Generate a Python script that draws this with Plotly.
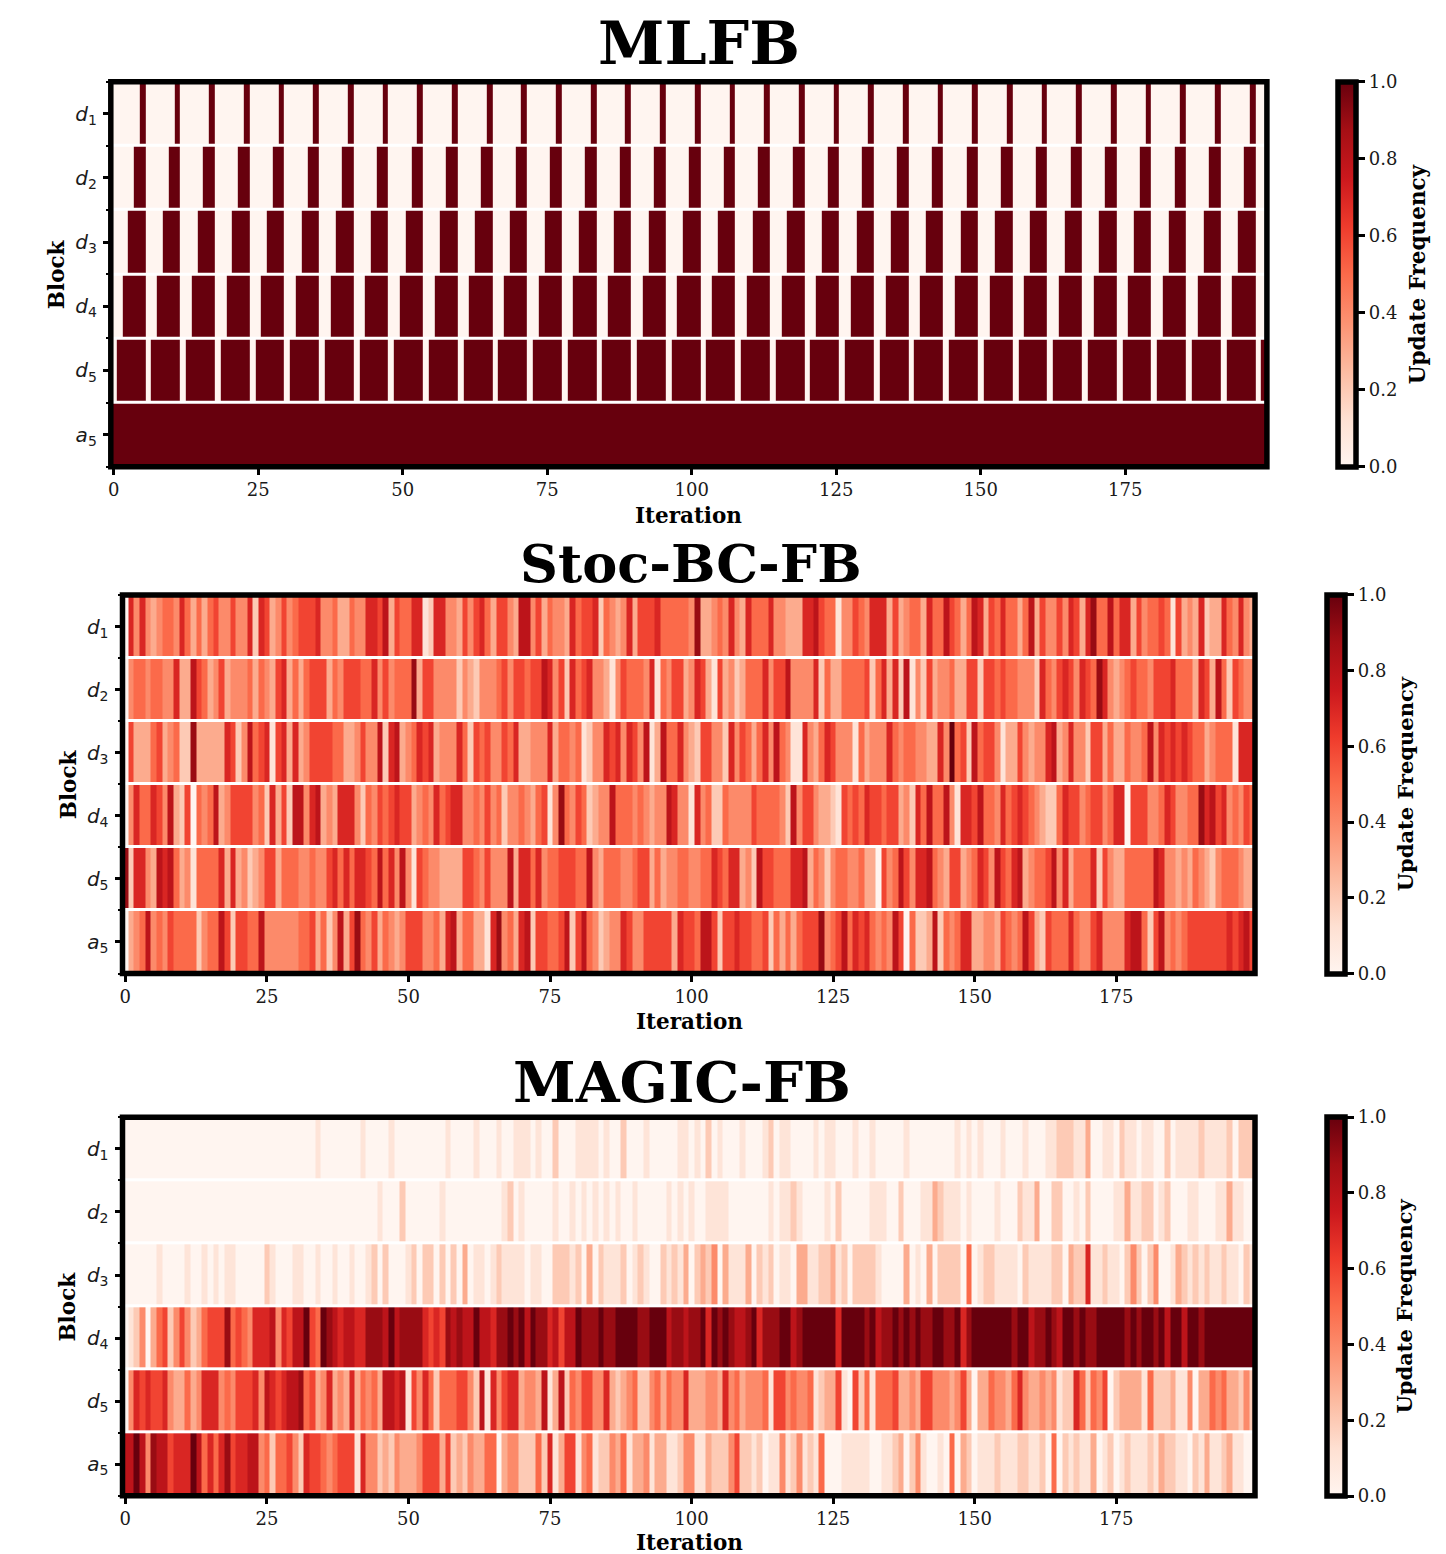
import plotly.graph_objects as go

W, H = 1446, 1554

BLOCK_LABELS = ["<i>d</i><sub>1</sub>", "<i>d</i><sub>2</sub>", "<i>d</i><sub>3</sub>",
                "<i>d</i><sub>4</sub>", "<i>d</i><sub>5</sub>", "<i>a</i><sub>5</sub>"]
ITERATION_TICKS = [0, 25, 50, 75, 100, 125, 150, 175]
CBAR_TICKS = [0.0, 0.2, 0.4, 0.6, 0.8, 1.0]
REDS = ["#fff5f0", "#fee0d2", "#fcbba1", "#fc9272", "#fb6a4a", "#ef3b2c", "#cb181d", "#a50f15", "#67000d"]

# Update counts in a window of ten iterations (value / 10 = update frequency)
MLFB_D1 = [0,0,0,0,0,10,0,0,0,0, 0,10,0,0,0,0,0,10,0,0, 0,0,0,10,0,0,0,0,0,10, 0,0,0,0,0,10,0,0,0,0, 0,10,0,0,0,0,0,10,0,0,
           0,0,0,10,0,0,0,0,0,10, 0,0,0,0,0,10,0,0,0,0, 0,10,0,0,0,0,0,10,0,0, 0,0,0,10,0,0,0,0,0,10, 0,0,0,0,0,10,0,0,0,0,
           0,10,0,0,0,0,0,10,0,0, 0,0,0,10,0,0,0,0,0,10, 0,0,0,0,0,10,0,0,0,0, 0,10,0,0,0,0,0,10,0,0, 0,0,0,10,0,0,0,0,0,10,
           0,0,0,0,0,10,0,0,0,0, 0,10,0,0,0,0,0,10,0,0, 0,0,0,10,0,0,0,0,0,10, 0,0,0,0,0,10,0,0,0,0, 0,10,0,0,0,0,0,10,0,0]
MLFB_D2 = [0,0,0,0,10,10,0,0,0,0, 10,10,0,0,0,0,10,10,0,0, 0,0,10,10,0,0,0,0,10,10, 0,0,0,0,10,10,0,0,0,0, 10,10,0,0,0,0,10,10,0,0,
           0,0,10,10,0,0,0,0,10,10, 0,0,0,0,10,10,0,0,0,0, 10,10,0,0,0,0,10,10,0,0, 0,0,10,10,0,0,0,0,10,10, 0,0,0,0,10,10,0,0,0,0,
           10,10,0,0,0,0,10,10,0,0, 0,0,10,10,0,0,0,0,10,10, 0,0,0,0,10,10,0,0,0,0, 10,10,0,0,0,0,10,10,0,0, 0,0,10,10,0,0,0,0,10,10,
           0,0,0,0,10,10,0,0,0,0, 10,10,0,0,0,0,10,10,0,0, 0,0,10,10,0,0,0,0,10,10, 0,0,0,0,10,10,0,0,0,0, 10,10,0,0,0,0,10,10,0,0]
MLFB_D3 = [0,0,0,10,10,10,0,0,0,10, 10,10,0,0,0,10,10,10,0,0, 0,10,10,10,0,0,0,10,10,10, 0,0,0,10,10,10,0,0,0,10, 10,10,0,0,0,10,10,10,0,0,
           0,10,10,10,0,0,0,10,10,10, 0,0,0,10,10,10,0,0,0,10, 10,10,0,0,0,10,10,10,0,0, 0,10,10,10,0,0,0,10,10,10, 0,0,0,10,10,10,0,0,0,10,
           10,10,0,0,0,10,10,10,0,0, 0,10,10,10,0,0,0,10,10,10, 0,0,0,10,10,10,0,0,0,10, 10,10,0,0,0,10,10,10,0,0, 0,10,10,10,0,0,0,10,10,10,
           0,0,0,10,10,10,0,0,0,10, 10,10,0,0,0,10,10,10,0,0, 0,10,10,10,0,0,0,10,10,10, 0,0,0,10,10,10,0,0,0,10, 10,10,0,0,0,10,10,10,0,0]
MLFB_D4 = [0,0,10,10,10,10,0,0,10,10, 10,10,0,0,10,10,10,10,0,0, 10,10,10,10,0,0,10,10,10,10, 0,0,10,10,10,10,0,0,10,10, 10,10,0,0,10,10,10,10,0,0,
           10,10,10,10,0,0,10,10,10,10, 0,0,10,10,10,10,0,0,10,10, 10,10,0,0,10,10,10,10,0,0, 10,10,10,10,0,0,10,10,10,10, 0,0,10,10,10,10,0,0,10,10,
           10,10,0,0,10,10,10,10,0,0, 10,10,10,10,0,0,10,10,10,10, 0,0,10,10,10,10,0,0,10,10, 10,10,0,0,10,10,10,10,0,0, 10,10,10,10,0,0,10,10,10,10,
           0,0,10,10,10,10,0,0,10,10, 10,10,0,0,10,10,10,10,0,0, 10,10,10,10,0,0,10,10,10,10, 0,0,10,10,10,10,0,0,10,10, 10,10,0,0,10,10,10,10,0,0]
MLFB_D5 = [0,10,10,10,10,10,0,10,10,10, 10,10,0,10,10,10,10,10,0,10, 10,10,10,10,0,10,10,10,10,10, 0,10,10,10,10,10,0,10,10,10, 10,10,0,10,10,10,10,10,0,10,
           10,10,10,10,0,10,10,10,10,10, 0,10,10,10,10,10,0,10,10,10, 10,10,0,10,10,10,10,10,0,10, 10,10,10,10,0,10,10,10,10,10, 0,10,10,10,10,10,0,10,10,10,
           10,10,0,10,10,10,10,10,0,10, 10,10,10,10,0,10,10,10,10,10, 0,10,10,10,10,10,0,10,10,10, 10,10,0,10,10,10,10,10,0,10, 10,10,10,10,0,10,10,10,10,10,
           0,10,10,10,10,10,0,10,10,10, 10,10,0,10,10,10,10,10,0,10, 10,10,10,10,0,10,10,10,10,10, 0,10,10,10,10,10,0,10,10,10, 10,10,0,10,10,10,10,10,0,10]
MLFB_A5 = [10,10,10,10,10,10,10,10,10,10, 10,10,10,10,10,10,10,10,10,10, 10,10,10,10,10,10,10,10,10,10, 10,10,10,10,10,10,10,10,10,10, 10,10,10,10,10,10,10,10,10,10,
           10,10,10,10,10,10,10,10,10,10, 10,10,10,10,10,10,10,10,10,10, 10,10,10,10,10,10,10,10,10,10, 10,10,10,10,10,10,10,10,10,10, 10,10,10,10,10,10,10,10,10,10,
           10,10,10,10,10,10,10,10,10,10, 10,10,10,10,10,10,10,10,10,10, 10,10,10,10,10,10,10,10,10,10, 10,10,10,10,10,10,10,10,10,10, 10,10,10,10,10,10,10,10,10,10,
           10,10,10,10,10,10,10,10,10,10, 10,10,10,10,10,10,10,10,10,10, 10,10,10,10,10,10,10,10,10,10, 10,10,10,10,10,10,10,10,10,10, 10,10,10,10,10,10,10,10,10,10]

STOC_D1 = [0,7,4,7,4,3,4,5,5,4, 7,5,3,5,3,5,6,4,4,6, 4,4,7,2,7,6,3,4,6,4, 5,6,6,6,7,4,4,5,3,3, 5,4,4,7,7,6,8,3,6,5,
           5,7,7,1,2,7,7,4,4,3, 6,4,6,7,5,3,6,6,4,3, 8,8,4,6,3,5,4,4,3,7, 5,6,6,7,2,5,4,3,4,7, 3,6,6,6,7,5,5,5,5,5,
           4,9,3,3,4,5,4,7,4,3, 7,5,5,5,7,4,4,3,3,3, 7,7,8,6,5,5,1,4,4,6, 5,4,7,7,7,3,6,3,4,5, 5,3,7,5,5,8,6,5,3,5,
           8,7,3,6,5,7,5,5,3,5, 8,3,6,4,4,6,4,7,6,3, 7,9,5,5,8,5,7,7,3,6, 4,5,5,6,5,1,6,3,4,3, 7,2,3,3,7,5,4,7,4,3]
STOC_D2 = [0,4,5,5,4,5,5,4,4,7, 3,3,8,6,5,3,4,6,3,4, 4,4,5,3,5,4,3,6,7,3, 5,3,5,6,6,6,3,5,4,6, 6,6,5,5,7,4,6,4,5,5,
           5,9,3,6,6,4,4,4,4,2, 4,3,2,4,4,4,5,6,4,6, 6,5,6,6,8,7,4,6,2,7, 5,6,7,4,4,3,1,4,6,5, 5,5,4,7,1,5,4,6,6,3,
           4,7,6,3,1,6,3,4,2,3, 5,5,5,7,4,6,6,8,4,4, 4,4,7,2,5,3,3,5,5,5, 5,6,2,5,7,3,7,2,8,1, 4,2,6,3,4,4,5,3,3,6,
           6,2,6,6,5,6,5,5,4,4, 4,2,7,5,4,6,7,6,4,7, 6,5,9,7,4,3,4,5,6,5, 5,4,6,6,6,7,5,5,5,3, 7,6,3,8,5,2,6,5,4,4]
STOC_D3 = [0,6,3,3,3,5,6,3,4,5, 2,2,9,3,3,3,3,3,7,6, 2,4,8,5,6,7,1,6,7,3, 7,3,4,6,6,6,6,5,5,3, 3,4,6,4,4,8,2,7,8,3,
           4,5,7,6,7,3,4,4,4,7, 5,2,6,5,6,4,4,6,5,7, 3,3,4,4,4,7,3,5,5,4, 5,1,2,4,4,7,6,7,4,7, 6,4,8,1,3,8,5,5,7,4,
           3,2,6,6,4,4,2,7,4,6, 5,3,5,7,4,8,5,4,1,1, 7,4,3,5,7,6,4,4,4,1, 5,3,4,4,4,7,5,4,5,5, 4,4,3,3,7,4,10,5,6,2,
           8,5,6,6,4,1,3,3,6,4, 3,4,4,7,8,3,4,7,4,4, 2,6,6,3,5,3,3,5,4,4, 5,8,4,7,6,7,6,7,6,5, 5,3,4,5,5,5,1,7,7,7]
STOC_D4 = [0,4,7,5,5,7,6,4,8,3, 2,6,0,5,4,5,8,3,4,6, 6,6,6,4,5,2,7,3,6,2, 8,8,4,7,8,3,4,3,7,7, 7,4,2,5,4,6,5,6,7,6,
           6,3,4,5,4,7,5,6,7,7, 4,4,5,4,6,4,5,2,4,4, 5,4,3,5,6,1,4,9,5,4, 6,5,2,3,4,4,8,5,5,5, 4,5,4,3,4,4,8,7,4,4,
           1,7,4,5,2,2,5,4,4,4, 4,6,5,5,5,5,4,2,8,4, 6,6,4,3,3,2,1,6,5,6, 5,7,6,6,5,6,6,3,4,2, 7,5,8,5,5,8,4,1,7,7,
           6,8,5,5,4,7,5,6,7,6, 5,4,3,2,2,5,7,6,6,4, 5,6,6,4,5,7,7,0,6,6, 6,4,4,5,7,6,4,4,5,5, 9,7,8,6,7,4,5,4,6,5]
STOC_D5 = [9,2,7,7,4,3,8,7,8,5, 3,4,1,5,5,5,5,7,3,7, 3,4,2,3,4,6,6,3,5,5, 5,4,4,5,4,4,6,7,5,7, 5,7,7,6,5,8,5,7,4,8,
           4,1,6,5,4,4,3,3,3,3, 6,6,5,4,6,4,4,4,8,3, 7,7,5,7,4,5,5,6,6,6, 5,5,8,4,3,5,5,5,4,4, 5,6,6,3,5,3,4,4,5,5,
           4,4,5,5,7,6,5,7,7,3, 4,2,8,6,6,5,5,5,7,7, 8,3,5,4,2,4,5,5,4,4, 5,3,3,0,6,4,5,8,6,4, 7,7,8,5,4,3,6,6,3,4,
           5,7,6,4,8,6,5,7,8,3, 4,5,5,6,8,4,7,3,5,5, 5,7,2,6,4,3,3,5,5,5, 5,5,8,7,4,4,3,4,3,5, 4,3,2,4,5,5,5,4,3,3]
STOC_A5 = [0,3,4,5,8,4,5,4,6,5, 5,5,5,2,4,5,5,8,6,2, 6,6,5,5,8,4,4,4,4,4, 4,5,5,6,3,5,2,4,8,3, 6,9,5,4,6,3,5,4,3,4,
           6,6,6,4,4,5,3,7,8,3, 5,5,3,3,1,7,9,4,5,3, 7,8,2,6,6,5,5,6,8,2, 6,8,5,4,2,3,4,4,7,6, 4,4,6,6,6,6,6,3,7,6,
           6,5,8,8,6,2,6,6,7,6, 6,5,5,6,2,5,3,5,3,5, 6,6,6,9,4,5,6,8,5,7, 6,7,5,4,5,4,8,6,0,5, 2,2,3,8,2,5,4,5,7,7,
           3,3,4,4,3,6,5,4,5,8, 6,3,2,6,5,5,5,7,5,4, 4,6,7,4,4,4,4,7,8,8, 5,2,6,8,4,5,4,5,6,6, 6,6,6,6,6,7,6,7,8,6]

MAGIC_D1 = [0,0,0,0,0,0,0,0,0,0, 0,0,0,0,0,0,0,0,0,0, 0,0,0,0,0,0,0,0,0,0, 0,0,0,0,1,0,0,0,0,0, 0,0,1,0,0,0,0,1,0,0,
            0,0,0,0,0,0,0,1,0,0, 0,0,1,0,0,0,1,0,0,1, 1,1,0,1,0,0,2,0,0,0, 1,1,1,1,0,1,0,0,2,0, 0,0,1,0,0,0,0,0,1,1,
            0,1,0,2,0,1,0,0,0,1, 0,0,0,1,2,0,1,1,0,0, 0,0,1,0,1,1,0,0,0,1, 0,0,1,0,0,0,0,0,1,0, 0,0,0,0,0,0,0,1,0,1,
            0,1,0,0,0,1,0,0,0,1, 0,0,0,1,1,2,2,2,1,1, 3,0,0,1,1,0,2,1,1,0, 1,1,0,0,2,0,1,1,1,1, 2,1,1,1,1,2,0,2,2,2]
MAGIC_D2 = [0,0,0,0,0,0,0,0,0,0, 0,0,0,0,0,0,0,0,0,0, 0,0,0,0,0,0,0,0,0,0, 0,0,0,0,0,0,0,0,0,0, 0,0,0,0,0,1,0,0,0,2,
            0,0,0,0,0,0,1,0,0,0, 0,0,0,0,0,0,0,1,2,0, 1,0,0,0,0,0,1,0,0,1, 0,1,0,1,0,1,0,1,0,0, 1,0,0,0,0,0,1,0,1,0,
            1,0,0,1,1,1,1,0,0,0, 0,0,0,0,1,0,1,1,2,1, 0,0,0,0,1,0,2,0,0,0, 0,0,1,1,1,0,0,2,0,0, 0,1,1,3,2,1,1,1,0,1,
            0,0,0,0,1,0,0,0,2,1, 1,3,0,0,2,2,0,0,1,0, 2,0,0,0,0,1,1,3,1,1, 2,2,0,1,2,0,0,0,1,1, 0,0,0,1,1,3,1,1,0,0]
MAGIC_D3 = [0,0,0,0,0,0,1,0,0,0, 0,1,0,0,1,0,1,0,1,1, 0,0,0,0,0,2,1,0,0,0, 1,1,0,0,1,0,0,1,0,0, 1,0,0,1,2,0,2,0,0,0,
            1,2,0,2,2,0,2,0,2,0, 3,0,1,1,0,1,2,1,1,1, 1,0,1,1,0,0,2,2,2,1, 2,0,3,0,2,1,1,1,2,0, 1,2,1,0,0,2,1,2,1,3,
            0,2,3,2,4,0,3,1,1,1, 3,0,2,1,2,0,1,1,0,3, 3,1,1,2,2,3,1,2,0,2, 2,2,2,1,0,0,0,0,3,0, 1,0,3,0,2,2,2,2,0,5,
            0,1,2,2,1,1,1,1,0,2, 1,1,1,1,2,2,0,3,2,2, 7,1,1,2,1,1,0,2,4,2, 0,2,4,0,0,1,3,2,1,2, 1,2,1,1,2,1,1,0,2,1]
MAGIC_D4 = [0,1,2,4,0,3,5,6,2,4, 6,4,2,3,5,6,6,6,9,5, 6,5,4,7,7,7,8,4,7,6, 8,8,10,6,5,10,9,8,7,8, 8,7,7,9,9,9,8,10,8,9,
            9,9,9,7,6,7,6,9,8,9, 8,8,10,8,8,7,9,9,10,9, 10,8,10,9,9,7,8,6,8,8, 10,9,9,9,10,9,9,10,10,10, 10,9,9,10,10,10,8,9,9,8,
            9,9,10,7,10,9,10,9,8,8, 9,10,7,9,9,9,10,10,8,9, 10,10,10,10,10,10,7,10,10,10, 10,9,10,8,9,9,10,9,10,9, 10,9,9,10,10,9,9,10,7,9,
            10,10,10,10,10,10,10,9,10,10, 8,9,9,10,9,8,10,10,9,10, 9,9,10,10,10,10,10,9,10,9, 10,10,9,10,8,10,10,8,10,10, 9,10,10,10,10,10,10,10,10,10]
MAGIC_D5 = [0,4,7,6,7,6,6,7,4,3, 3,5,3,4,7,7,7,4,5,4, 6,6,6,7,4,8,7,6,7,8, 8,9,5,6,3,4,7,3,4,3, 7,3,5,4,5,3,8,8,7,8,
            1,6,4,7,5,2,5,5,5,6, 6,4,2,8,1,7,4,6,7,7, 3,4,4,3,8,1,3,8,2,5, 4,6,6,4,4,7,3,2,3,4, 5,2,2,4,5,3,5,4,4,7,
            3,3,3,4,4,3,7,4,5,3, 4,4,4,5,1,6,6,4,5,4, 4,5,1,2,3,3,6,1,0,6, 2,5,1,5,5,5,6,3,3,4, 3,6,6,4,4,4,3,4,6,3,
            0,3,3,5,4,4,3,5,7,4, 3,3,4,3,4,1,2,2,7,5, 2,5,4,6,0,2,3,3,3,3, 1,5,2,2,2,3,1,1,4,0, 3,3,5,4,5,3,3,2,4,2]
MAGIC_A5 = [8,8,10,8,4,9,8,8,6,7, 7,7,10,8,5,7,5,7,9,6, 7,7,8,8,4,5,2,5,5,6, 4,2,7,6,6,5,4,5,6,6, 6,1,7,4,4,2,3,2,4,3,
            3,3,4,6,6,6,3,6,2,3, 2,4,3,3,5,5,0,3,4,4, 2,2,2,5,2,7,1,3,6,6, 1,4,5,1,2,2,4,3,5,1, 3,3,4,1,3,3,1,1,2,4,
            4,1,1,3,2,2,2,4,6,2, 2,1,2,0,1,1,4,1,2,4, 1,2,1,5,0,0,0,1,1,1, 1,1,0,0,1,1,2,3,0,2, 4,1,0,0,1,0,5,0,3,2,
            0,1,1,1,2,1,1,1,2,2, 1,1,2,0,5,0,2,1,2,1, 1,3,0,1,2,0,1,2,1,1, 1,2,1,3,2,2,1,1,0,2, 1,3,1,1,2,3,1,1,0,0]

MLFB_Z = [MLFB_D1, MLFB_D2, MLFB_D3, MLFB_D4, MLFB_D5, MLFB_A5]
STOC_Z = [STOC_D1, STOC_D2, STOC_D3, STOC_D4, STOC_D5, STOC_A5]
MAGIC_Z = [MAGIC_D1, MAGIC_D2, MAGIC_D3, MAGIC_D4, MAGIC_D5, MAGIC_A5]

for name, rows in (("MLFB", MLFB_Z), ("STOC", STOC_Z), ("MAGIC", MAGIC_Z)):
    for i, r in enumerate(rows):
        assert len(r) == 200, (name, i, len(r))

# Panel geometry in page pixels: left, right, top, bottom, colourbar left, title centre x/y and size, labels
PANELS = [
    dict(title="MLFB", z=MLFB_Z, l=110.8, r=1266.9, t=81.7, b=466.7, cb=1337.5, tx=699, ty=43, ts=60, xl=688, xy=515, bx=56, ux=1417, us=21.5),
    dict(title="Stoc-BC-FB", z=STOC_Z, l=122.5, r=1255.0, t=595.0, b=973.5, cb=1326.5, tx=691, ty=564, ts=52.5, xl=689, xy=1021, bx=68, ux=1405, us=21),
    dict(title="MAGIC-FB", z=MAGIC_Z, l=122.5, r=1255.0, t=1117.3, b=1495.8, cb=1326.5, tx=682, ty=1082, ts=56.6, xl=689, xy=1542, bx=68, ux=1405, us=21),
]

SERIF = "DejaVu Serif"
PUSHED_LEFT = 3  # plotly reserves this much on the left of the paper area
fig = go.Figure()
colorscale = [[i / 8, c] for i, c in enumerate(REDS)]
annotations, shapes = [], []
px = lambda v: (v - PUSHED_LEFT) / (W - PUSHED_LEFT)
py = lambda v: 1 - v / H


def note(text, x, y, size, angle=0):
    annotations.append(dict(text=text, x=px(x), y=py(y), xref="paper", yref="paper", showarrow=False,
                            xanchor="center", yanchor="middle", textangle=angle,
                            font=dict(family=SERIF, size=size, color="black")))


for i, p in enumerate(PANELS, start=1):
    suffix = "" if i == 1 else str(i)
    fig.add_trace(go.Heatmap(
        z=[[v / 10 for v in row] for row in p["z"]],
        x=list(range(200)), y=list(range(6)),
        xaxis=f"x{suffix}", yaxis=f"y{suffix}",
        zmin=0, zmax=1, colorscale=colorscale, ygap=3, hoverongaps=False,
        colorbar=dict(
            x=px(p["cb"]), xanchor="left", xref="paper", xpad=0, ypad=0,
            y=py((p["t"] + p["b"]) / 2), yanchor="middle", yref="paper",
            len=p["b"] - p["t"], lenmode="pixels", thickness=18, thicknessmode="pixels",
            outlinewidth=5.5, outlinecolor="black", borderwidth=0,
            tickvals=CBAR_TICKS, tickformat=".1f", ticks="outside", ticklen=7, tickwidth=3, tickcolor="black",
            tickfont=dict(family=SERIF, size=18, color="#1a1a1a"),
        ),
    ))
    fig.update_layout({
        f"xaxis{suffix}": dict(domain=[px(p["l"]), px(p["r"])], range=[-0.5, 199.5], anchor=f"y{suffix}",
                               tickvals=ITERATION_TICKS, ticks="outside", ticklen=7, tickwidth=3, tickcolor="black",
                               showgrid=False, zeroline=False, showline=False,
                               tickfont=dict(family=SERIF, size=18, color="#1a1a1a")),
        f"yaxis{suffix}": dict(domain=[py(p["b"]), py(p["t"])], range=[5.5, -0.5], anchor=f"x{suffix}",
                               tickvals=list(range(6)), ticktext=BLOCK_LABELS, ticks="outside", ticklen=7, tickwidth=3,
                               tickcolor="black", showgrid=False, zeroline=False, showline=False,
                               ticklabelstandoff=2,
                               minor=dict(tickvals=[-0.5, 0.5, 1.5, 2.5, 3.5, 4.5, 5.5], ticks="outside",
                                          ticklen=4, tickwidth=2, tickcolor="black"),
                               tickfont=dict(family="DejaVu Sans", size=20, color="#1a1a1a")),
    })
    shapes.append(dict(type="rect", xref=f"x{suffix} domain", yref=f"y{suffix} domain", x0=0, x1=1, y0=0, y1=1,
                       line=dict(color="black", width=5.5), fillcolor="rgba(0,0,0,0)", layer="above"))
    note(f"<b>{p['title']}</b>", p["tx"], p["ty"], p["ts"])
    note("<b>Iteration</b>", p["xl"], p["xy"], 21.5)
    note("<b>Block</b>", p["bx"], (p["t"] + p["b"]) / 2, 21.5, -90)
    note("<b>Update Frequency</b>", p["ux"], (p["t"] + p["b"]) / 2, p["us"], -90)

fig.update_layout(width=W, height=H, margin=dict(l=0, r=0, t=0, b=0), autosize=False,
                  paper_bgcolor="white", plot_bgcolor="white", annotations=annotations, shapes=shapes)

fig.write_html("out.html", config=dict(displayModeBar=False), post_script="document.body.style.margin='0';")
